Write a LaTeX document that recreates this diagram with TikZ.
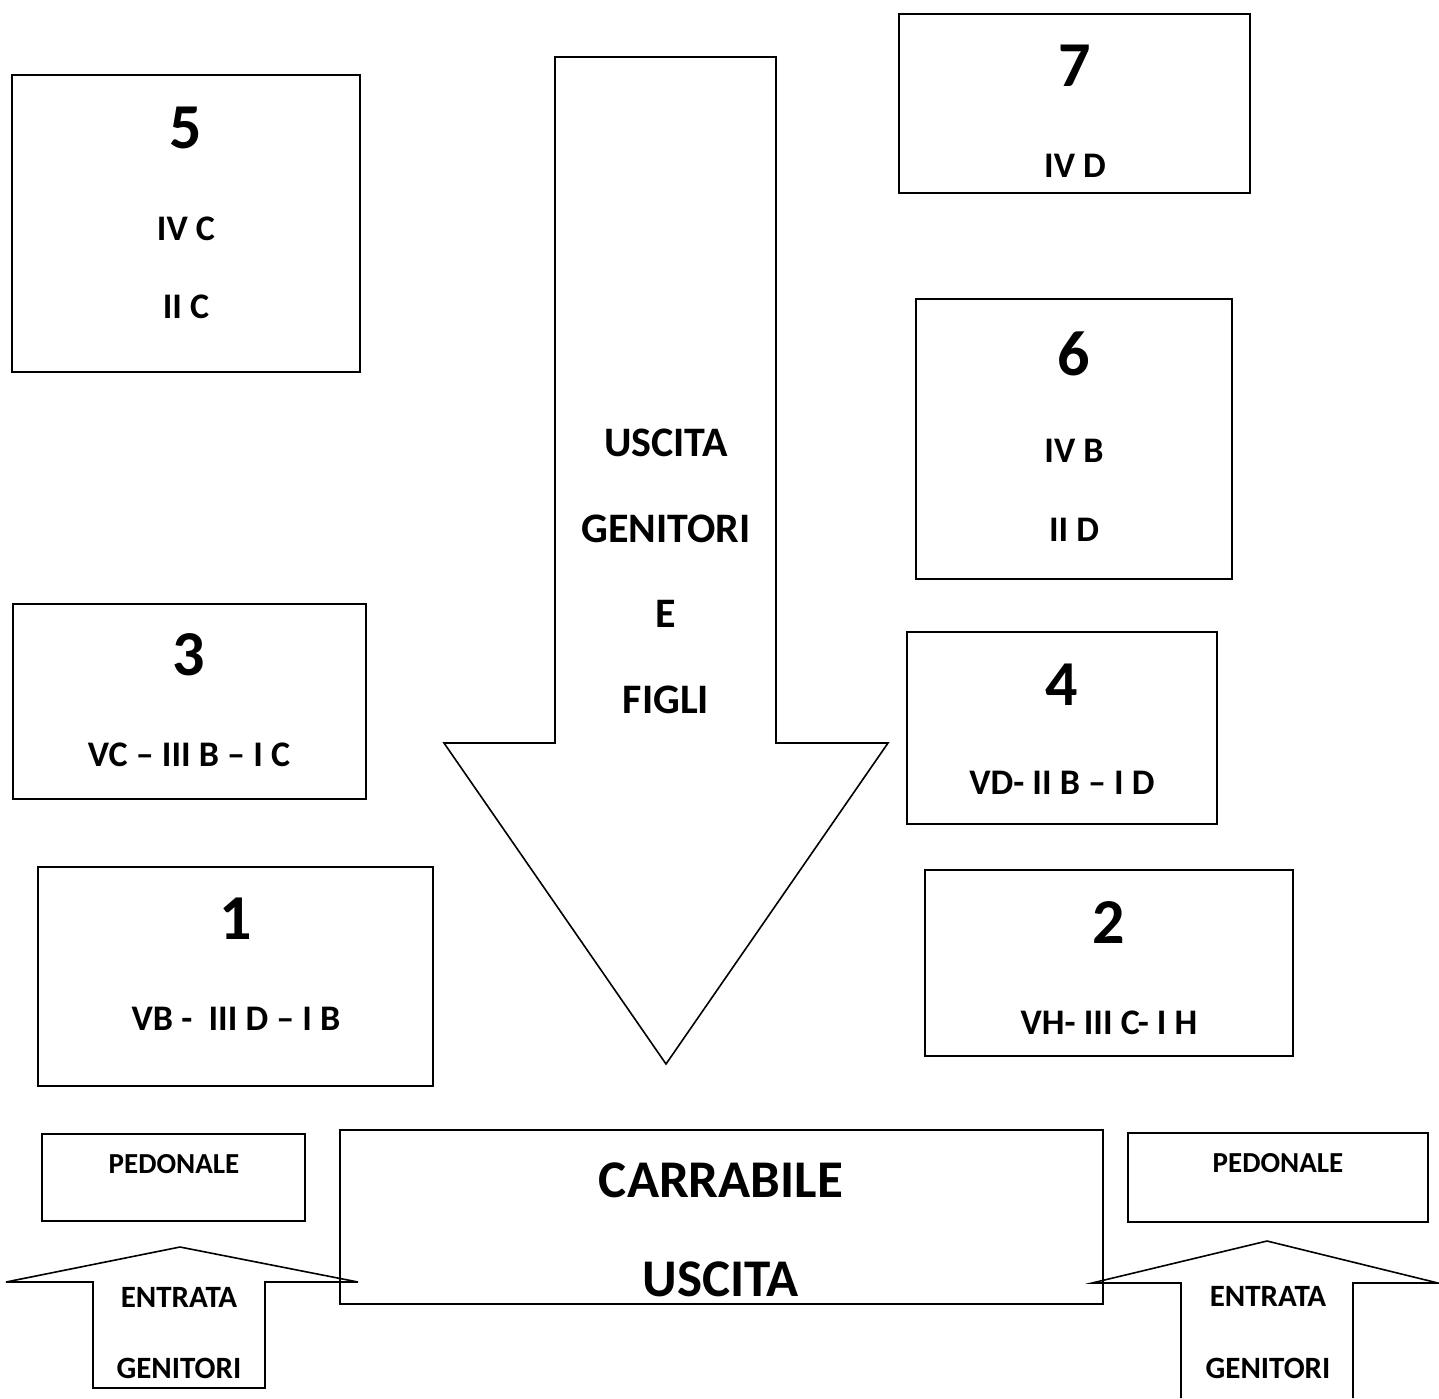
\documentclass[tikz,border=0pt]{standalone}
\usepackage{fontspec}
\setmainfont{Carlito}
\usepackage{tikz}
\usetikzlibrary{positioning}

\begin{document}
\begin{tikzpicture}[
	x=0.5pt, y=-0.5pt,
	aula/.style={
		draw,
		line width=1pt
	},
	freccia/.style={
		draw,
		line width=0.8pt,
		line join=miter
	},
	num/.style={
		inner sep=0pt,
		font = \fontsize{32}{38}\selectfont\bfseries
	},
	cls/.style={
		inner sep=0pt,
		font = \fontsize{18}{22}\selectfont\bfseries
	},
	uscita/.style={
		inner sep=0pt,
		font = \fontsize{21}{25}\selectfont\bfseries
	},
	carr/.style={
		inner sep=0pt,
		font = \fontsize{26.5}{31}\selectfont\bfseries
	},
	ped/.style={
		inner sep=0pt,
		font = \fontsize{14.5}{17}\selectfont\bfseries
	},
	entr/.style={
		inner sep=0pt,
		font = \fontsize{15.5}{18}\selectfont\bfseries
	}
	]
	
	\useasboundingbox (0,0) rectangle (1439,1398);
	
	% aule
	\draw[aula] (12,75) rectangle (360,372);
	\node[num] (n5) at (186,128) {5};
	\node[cls] (c5a) at (186,229) {IV C};
	\node[cls] (c5b) at (186,307) {II C};
	
	\draw[aula] (899,14) rectangle (1250,193);
	\node[num] (n7) at (1075,66) {7};
	\node[cls] (c7) at (1075,166) {IV D};
	
	\draw[aula] (916,299) rectangle (1232,579);
	\node[num] (n6) at (1074,354) {6};
	\node[cls] (c6a) at (1074,451) {IV B};
	\node[cls] (c6b) at (1074,530) {II D};
	
	\draw[aula] (13,604) rectangle (366,799);
	\node[num] (n3) at (189,655) {3};
	\node[cls] (c3) at (189,755) {VC -- III B -- I C};
	
	\draw[aula] (907,632) rectangle (1217,824);
	\node[num] (n4) at (1062,685) {4};
	\node[cls] (c4) at (1062,783) {VD- II B -- I D};
	
	\draw[aula] (38,867) rectangle (433,1086);
	\node[num] (n1) at (236,919) {1};
	\node[cls] (c1) at (236,1019) {VB -\ \ III D -- I B};
	
	\draw[aula] (925,870) rectangle (1293,1056);
	\node[num] (n2) at (1109,922) {2};
	\node[cls] (c2) at (1109,1023) {VH- III C- I H};
	
	% freccia centrale
	\draw[freccia] (555,57) -- (776,57) -- (776,743) -- (888,743)
		-- (666,1064) -- (444,743) -- (555,743) -- cycle;
	\node[uscita] (u1) at (666,443) {USCITA};
	\node[uscita] (u2) at (666,529) {GENITORI};
	\node[uscita] (u3) at (666,614) {E};
	\node[uscita] (u4) at (666,700) {FIGLI};
	
	% uscite in basso
	\draw[aula] (340,1130) rectangle (1103,1304);
	\node[carr] (k1) at (721,1180) {CARRABILE};
	\node[carr] (k2) at (721,1279) {USCITA};
	
	\draw[aula] (42,1134) rectangle (305,1221);
	\node[ped] (p1) at (174,1164) {PEDONALE};
	
	\draw[aula] (1128,1133) rectangle (1428,1222);
	\node[ped] (p2) at (1278,1163) {PEDONALE};
	
	% frecce entrata
	\draw[freccia] (93,1388) -- (93,1282) -- (6,1282) -- (180,1247)
		-- (358,1282) -- (265,1282) -- (265,1388) -- cycle;
	\node[entr] (e1) at (179,1297) {ENTRATA};
	\node[entr] (g1) at (179,1368) {GENITORI};
	
	\draw[freccia] (1181,1398) -- (1181,1283) -- (1092,1283) -- (1267,1241)
		-- (1438,1283) -- (1353,1283) -- (1353,1398);
	\node[entr] (e2) at (1268,1296) {ENTRATA};
	\node[entr] (g2) at (1268,1368) {GENITORI};
	
\end{tikzpicture}
\end{document}
